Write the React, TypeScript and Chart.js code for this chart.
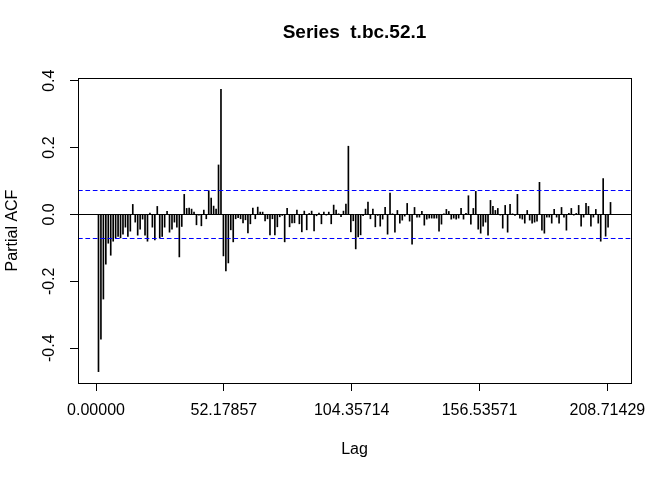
import React, { useEffect, useRef } from "react";
import { Chart, registerables } from "chart.js";

Chart.register(...registerables);

const TITLE = "Series  t.bc.52.1";
const X_LABEL = "Lag";
const Y_LABEL = "Partial ACF";

// partial autocorrelations, lags 1..210
const pacfValues: number[] = [
  -0.470, -0.373, -0.253, -0.149, -0.086, -0.122, -0.080, -0.070, -0.066, -0.070,
  -0.059, -0.038, -0.066, -0.050, 0.030, -0.023, -0.062, -0.044, -0.014, -0.062,
  -0.080, 0.004, -0.038, -0.076, 0.024, -0.070, -0.066, -0.038, 0.009, -0.053,
  -0.044, -0.023, -0.038, -0.127, -0.036, 0.060, 0.018, 0.019, 0.016, 0.007,
  -0.031, -0.002, -0.034, 0.013, -0.013, 0.071, 0.049, 0.025, 0.016, 0.148,
  0.374, -0.124, -0.169, -0.145, -0.046, -0.082, -0.013, -0.010, -0.013, -0.025,
  -0.016, -0.055, -0.028, 0.019, -0.013, 0.022, 0.007, 0.007, -0.019, -0.013,
  -0.061, -0.013, -0.061, -0.037, -0.007, -0.003, -0.082, 0.018, -0.037, -0.025,
  -0.025, 0.013, -0.028, -0.052, 0.010, -0.046, 0.003, 0.010, -0.049, -0.004,
  0.004, -0.028, 0.007, -0.002, 0.007, -0.028, 0.028, 0.013, 0.002, -0.007,
  0.010, 0.031, 0.204, -0.052, -0.019, -0.103, -0.067, -0.061, -0.004, 0.016,
  0.037, -0.013, 0.016, -0.037, -0.003, -0.035, -0.014, 0.021, -0.059, 0.064,
  0.002, -0.053, 0.012, -0.026, -0.017, -0.005, 0.033, -0.020, -0.089, 0.021,
  -0.008, -0.008, 0.009, -0.032, -0.014, -0.011, -0.011, -0.011, -0.011, -0.050,
  -0.029, 0.002, 0.015, 0.009, -0.014, -0.011, -0.014, -0.011, 0.018, -0.014,
  0.003, 0.056, -0.029, 0.018, 0.069, -0.044, -0.056, -0.035, -0.023, -0.062,
  0.042, 0.024, 0.012, 0.018, -0.002, -0.041, 0.027, -0.053, 0.030, 0.002,
  -0.003, 0.060, -0.011, -0.014, -0.026, 0.012, -0.017, -0.026, -0.023, -0.020,
  0.096, -0.047, -0.056, -0.008, -0.008, -0.026, 0.015, -0.008, -0.026, 0.021,
  -0.008, -0.047, 0.003, 0.018, -0.002, 0.003, 0.027, -0.035, -0.008, 0.033,
  0.024, -0.035, -0.008, 0.015, -0.026, -0.080, 0.107, -0.065, -0.038, 0.036,
];

const lags: number[] = pacfValues.map((_, i) => i + 1);

const xTickValues: number[] = [0, 52.17857, 104.35714, 156.53571, 208.71429];
const yTickValues: number[] = [-0.4, -0.2, 0, 0.2, 0.4];

const CI = 0.0719; // significance bound

const X_MIN = -7.36;
const X_MAX = 218.36;
const Y_MIN = -0.504;
const Y_MAX = 0.408;

const FONT_FAMILY = '"Liberation Sans", Arial, Helvetica, sans-serif';

const overlay = {
  id: "rOverlay",
  afterDatasetsDraw(chart: any) {
    const { ctx, chartArea: a, scales } = chart;
    const y = scales.y;
    ctx.save();
    ctx.lineWidth = 1;
    // zero line
    const y0 = Math.round(y.getPixelForValue(0)) + 0.5;
    ctx.strokeStyle = "#000000";
    ctx.beginPath();
    ctx.moveTo(a.left, y0);
    ctx.lineTo(a.right, y0);
    ctx.stroke();
    // confidence bounds
    ctx.strokeStyle = "#0000FF";
    ctx.setLineDash([4.7, 2.7]);
    for (const c of [CI, -CI]) {
      const yy = Math.round(y.getPixelForValue(c)) + 0.5;
      ctx.beginPath();
      ctx.moveTo(a.left, yy);
      ctx.lineTo(a.right, yy);
      ctx.stroke();
    }
    ctx.setLineDash([]);
    // box
    ctx.strokeStyle = "#000000";
    const l = Math.round(a.left) + 0.5;
    const t = Math.round(a.top) + 0.5;
    const r = Math.round(a.right) + 0.5;
    const b = Math.round(a.bottom) + 0.5;
    ctx.strokeRect(l, t, r - l, b - t);
    // main title
    ctx.fillStyle = "#000000";
    ctx.font = `bold 19px ${FONT_FAMILY}`;
    ctx.textAlign = "center";
    ctx.textBaseline = "middle";
    ctx.fillText(TITLE, (a.left + a.right) / 2, 33);
    ctx.restore();
  },
};

export default function App() {
  const canvasRef = useRef<HTMLCanvasElement | null>(null);

  useEffect(() => {
    document.body.style.margin = "0";
    const canvas = canvasRef.current;
    if (!canvas) return;
    const chart = new Chart(canvas, {
      type: "bar",
      data: {
        datasets: [
          {
            data: lags.map((l, i) => ({ x: l, y: pacfValues[i] })),
            backgroundColor: "#000000",
            borderWidth: 0,
            barThickness: 1,
            grouped: false,
          } as any,
        ],
      },
      options: {
        responsive: false,
        animation: false,
        devicePixelRatio: 1,
        layout: { padding: { top: 78, right: 41, bottom: 21, left: 0 } },
        plugins: {
          legend: { display: false },
          tooltip: { enabled: false },
          title: { display: false },
        },
        scales: {
          x: {
            type: "linear",
            min: X_MIN,
            max: X_MAX,
            offset: false,
            afterBuildTicks: (scale: any) => {
              scale.ticks = xTickValues.map((v) => ({ value: v }));
            },
            afterFit: (scale: any) => {
              scale.height = 76;
            },
            ticks: {
              autoSkip: false,
              maxRotation: 0,
              minRotation: 0,
              padding: 10,
              color: "#000000",
              font: { family: FONT_FAMILY, size: 16 },
              callback: (v: any) => Number(v).toFixed(5),
            },
            grid: {
              display: true,
              offset: false,
              drawOnChartArea: false,
              drawTicks: true,
              tickLength: 8,
              color: "#000000",
              lineWidth: 1,
            },
            border: { display: false },
            title: {
              display: true,
              text: X_LABEL,
              color: "#000000",
              font: { family: FONT_FAMILY, size: 16 },
              padding: { top: 0, bottom: 0 },
            },
          },
          y: {
            type: "linear",
            min: Y_MIN,
            max: Y_MAX,
            afterBuildTicks: (scale: any) => {
              scale.ticks = yTickValues.map((v) => ({ value: v }));
            },
            afterFit: (scale: any) => {
              scale.width = 78;
            },
            ticks: {
              autoSkip: false,
              minRotation: 90,
              maxRotation: 90,
              crossAlign: "center",
              padding: 7,
              color: "#000000",
              font: { family: FONT_FAMILY, size: 16 },
              callback: (v: any) => Number(v).toFixed(1),
            },
            grid: {
              display: true,
              offset: false,
              drawOnChartArea: false,
              drawTicks: true,
              tickLength: 8,
              color: "#000000",
              lineWidth: 1,
            },
            border: { display: false },
            title: {
              display: true,
              text: Y_LABEL,
              color: "#000000",
              font: { family: FONT_FAMILY, size: 16 },
              padding: { top: 3, bottom: 0 },
            },
          },
        },
      },
      plugins: [overlay],
    });
    return () => chart.destroy();
  }, []);

  return (
    <div style={{ width: 672, height: 480, background: "#ffffff" }}>
      <canvas ref={canvasRef} width={672} height={480} style={{ display: "block" }} />
    </div>
  );
}
